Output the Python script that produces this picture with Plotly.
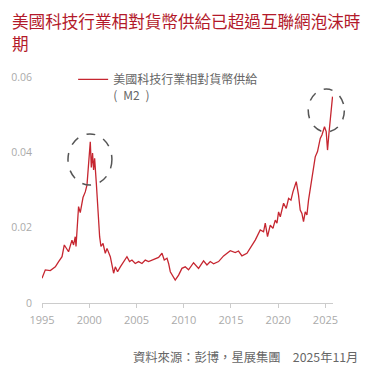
import plotly.graph_objects as go

# ---- data ----
years = [1995.0, 1995.35, 1995.88, 1996.41, 1996.76, 1997.12, 1997.36, 1997.81, 1998.17, 1998.34,
         1998.52, 1998.6, 1998.87, 1999.05, 1999.34, 1999.58, 1999.76, 1999.93, 2000.11, 2000.22,
         2000.35, 2000.46, 2000.57, 2000.75, 2000.99, 2001.1, 2001.24, 2001.46, 2001.7, 2001.88,
         2002.23, 2002.58, 2002.76, 2003.0, 2003.29, 2003.63, 2003.99, 2004.27, 2004.52, 2004.87,
         2005.22, 2005.58, 2005.93, 2006.28, 2006.64, 2006.99, 2007.34, 2007.7, 2007.94, 2008.23,
         2008.4, 2008.58, 2008.86, 2009.1, 2009.46, 2009.81, 2010.16, 2010.51, 2011.04, 2011.57,
         2012.1, 2012.46, 2012.81, 2013.16, 2013.69, 2014.22, 2014.93, 2015.45, 2015.8, 2016.16,
         2016.69, 2017.04, 2017.57, 2018.1, 2018.45, 2018.63, 2018.87, 2019.16, 2019.44, 2019.69,
         2019.87, 2020.04, 2020.22, 2020.57, 2020.85, 2021.1, 2021.35, 2021.56, 2021.8, 2021.91,
         2022.15, 2022.33, 2022.51, 2022.68, 2022.86, 2023.04, 2023.21, 2023.39, 2023.57, 2023.74,
         2023.92, 2024.16, 2024.45, 2024.63, 2024.8, 2024.9, 2025.08, 2025.22, 2025.37, 2025.51,
         2025.61, 2025.75]
values = [0.0066, 0.0088, 0.0086, 0.0096, 0.0110, 0.0123, 0.0154, 0.0136, 0.0167, 0.0154,
          0.0176, 0.0150, 0.0256, 0.0240, 0.0280, 0.0295, 0.0313, 0.0380, 0.0428, 0.0360,
          0.0398, 0.0353, 0.0384, 0.0318, 0.0203, 0.0176, 0.0150, 0.0158, 0.0132, 0.0145,
          0.0123, 0.0079, 0.0096, 0.0083, 0.0096, 0.0110, 0.0123, 0.0110, 0.0114, 0.0105,
          0.0110, 0.0105, 0.0114, 0.0110, 0.0114, 0.0119, 0.0121, 0.0132, 0.0114, 0.0119,
          0.0105, 0.0083, 0.0070, 0.0061, 0.0074, 0.0092, 0.0096, 0.0088, 0.0107, 0.0092,
          0.0112, 0.0101, 0.0110, 0.0104, 0.0110, 0.0125, 0.0139, 0.0134, 0.0138, 0.0125,
          0.0132, 0.0145, 0.0167, 0.0194, 0.0189, 0.0212, 0.0176, 0.0207, 0.0198, 0.0220,
          0.0212, 0.0242, 0.0229, 0.0265, 0.0251, 0.0278, 0.0273, 0.0295, 0.0318, 0.0322,
          0.0287, 0.0247, 0.0238, 0.0216, 0.0242, 0.0234, 0.0273, 0.0300, 0.0327, 0.0353,
          0.0388, 0.0402, 0.0437, 0.0446, 0.0459, 0.0468, 0.0455, 0.0406, 0.0450, 0.0494,
          0.0512, 0.0548]

x_tick_vals = [1995, 2000, 2005, 2010, 2015, 2020, 2025]
y_tick_vals = [0, 0.02, 0.04, 0.06]
y_tick_text = ["0", "0.02", "0.04", "0.06"]

series_name = "美國科技行業相對貨幣供給<br>(\u2002M2\u2002)"
title_line1 = "美國科技行業相對貨幣供給已超過互聯網泡沫時"
title_line2 = "期"
source_text = "資料來源：彭博，星展集團　2025年11月"

# highlight circles in data units: (x0, x1, y0, y1)
circles = [(1997.75, 2002.4, 0.0313, 0.0449), (2023.18, 2027.0, 0.0454, 0.0568)]

X_RANGE = [1995, 2025.8]
Y_RANGE = [0, 0.06]

FONT = "Open Sans, Noto Sans CJK TC, sans-serif"
CJK = "Noto Sans CJK TC, sans-serif"

fig = go.Figure()
fig.add_trace(go.Scatter(x=years, y=values, mode="lines", name=series_name,
                         line=dict(color="#c62630", width=1.3)))

def to_paper_x(v):
    return (v - X_RANGE[0]) / (X_RANGE[1] - X_RANGE[0])

def to_paper_y(v):
    return (v - Y_RANGE[0]) / (Y_RANGE[1] - Y_RANGE[0])

for (x0, x1, y0, y1) in circles:
    fig.add_shape(type="circle", xref="paper", yref="paper",
                  x0=to_paper_x(x0), x1=to_paper_x(x1), y0=to_paper_y(y0), y1=to_paper_y(y1),
                  line=dict(color="#555555", width=1.5, dash="dash"))

# title (two lines)
fig.add_annotation(text=title_line1 + "<br>" + title_line2, xref="paper", yref="paper",
                   x=-0.11, y=1.31, xanchor="left", yanchor="top", align="left",
                   showarrow=False, font=dict(family=CJK, size=16.6, color="#b3192a"))

fig.add_annotation(text=source_text, xref="paper", yref="paper", x=1.093, y=-0.238,
                   xanchor="right", yanchor="middle", showarrow=False,
                   font=dict(family=CJK, size=12.3, color="#666666"))

fig.update_layout(
    width=382, height=378,
    margin=dict(l=34, r=57, t=69, b=83, autoexpand=False),
    paper_bgcolor="white", plot_bgcolor="white",
    showlegend=True,
    legend=dict(x=0.107, y=1.053, xanchor="left", yanchor="top", bgcolor="rgba(0,0,0,0)",
                font=dict(family=CJK, size=12, color="#666666"), valign="top",
                itemwidth=30),
    xaxis=dict(range=X_RANGE, tickvals=x_tick_vals, showgrid=False, zeroline=False,
               showline=True, linecolor="#cccccc", linewidth=1,
               ticks="outside", ticklen=4, tickcolor="#cccccc", ticklabelstandoff=3,
               tickfont=dict(family=FONT, size=11, color="#aaaaaa")),
    yaxis=dict(range=Y_RANGE, tickvals=y_tick_vals, ticktext=y_tick_text, showgrid=False,
               zeroline=False, showline=False, ticks="", ticklabelstandoff=9,
               tickfont=dict(family=FONT, size=10.5, color="#aaaaaa")),
)

fig.write_html("out.html")
